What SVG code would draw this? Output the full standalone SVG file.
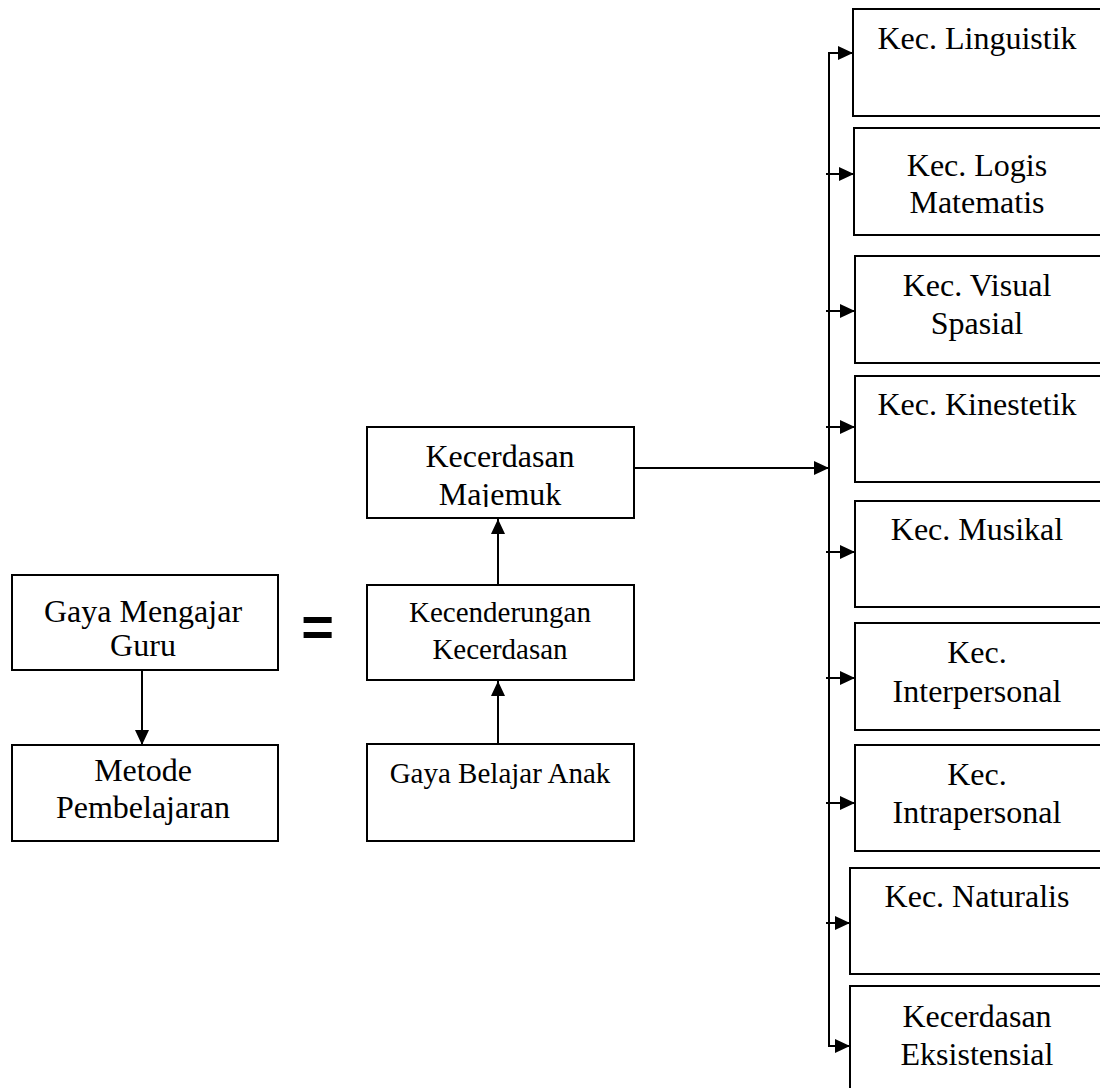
<svg xmlns="http://www.w3.org/2000/svg" width="1100" height="1088" viewBox="0 0 1100 1088">
  <style>
    .box { fill: #fff; stroke: #000; stroke-width: 2; }
    .t { font-family: "Liberation Serif", "Times New Roman", serif; font-size: 32px; fill: #000; text-anchor: middle; }
    .ts { font-size: 29px; }
    .eq { font-family: "Liberation Sans", Arial, sans-serif; font-weight: bold; font-size: 56px; fill: #000; text-anchor: middle; }
    .ln { fill: none; stroke: #000; stroke-width: 2; }
  </style>
  <defs>
    <marker id="ah" markerUnits="userSpaceOnUse" markerWidth="15" markerHeight="14" refX="15" refY="7" orient="auto">
      <path d="M0,0 L15,7 L0,14 Z" fill="#000"/>
    </marker>
    <clipPath id="clipMaj">
      <rect x="360" y="420" width="280" height="87"/>
    </clipPath>
  </defs>

  <rect width="1100" height="1088" fill="#fff"/>

  <g id="connectors">
    <line class="ln" x1="142" y1="670" x2="142" y2="745" marker-end="url(#ah)"/>
    <line class="ln" x1="498" y1="744" x2="498" y2="681" marker-end="url(#ah)"/>
    <line class="ln" x1="498" y1="585" x2="498" y2="519" marker-end="url(#ah)"/>
    <line class="ln" x1="634" y1="468" x2="829" y2="468" marker-end="url(#ah)"/>
    <line class="ln" x1="829" y1="52" x2="829" y2="1047"/>
    <line class="ln" x1="828" y1="53" x2="853" y2="53" marker-end="url(#ah)"/>
    <line class="ln" x1="826" y1="174" x2="854" y2="174" marker-end="url(#ah)"/>
    <line class="ln" x1="826" y1="311" x2="855" y2="311" marker-end="url(#ah)"/>
    <line class="ln" x1="826" y1="427" x2="855" y2="427" marker-end="url(#ah)"/>
    <line class="ln" x1="826" y1="552" x2="855" y2="552" marker-end="url(#ah)"/>
    <line class="ln" x1="826" y1="678" x2="855" y2="678" marker-end="url(#ah)"/>
    <line class="ln" x1="826" y1="803" x2="855" y2="803" marker-end="url(#ah)"/>
    <line class="ln" x1="826" y1="923" x2="850" y2="923" marker-end="url(#ah)"/>
    <line class="ln" x1="828" y1="1046" x2="850" y2="1046" marker-end="url(#ah)"/>
  </g>

  <g id="gaya-mengajar">
    <rect class="box" x="12" y="575" width="266" height="95"/>
    <text class="t" x="143" y="622">Gaya Mengajar</text>
    <text class="t" x="143" y="656">Guru</text>
  </g>
  <g id="metode">
    <rect class="box" x="12" y="745" width="266" height="96"/>
    <text class="t" x="143" y="781">Metode</text>
    <text class="t" x="143" y="818">Pembelajaran</text>
  </g>
  <g id="equals">
    <text class="eq" x="317.5" y="646">=</text>
  </g>
  <g id="majemuk">
    <rect class="box" x="367" y="427" width="267" height="91"/>
    <text class="t" x="500" y="467">Kecerdasan</text>
    <text class="t" x="500" y="505" clip-path="url(#clipMaj)">Majemuk</text>
  </g>
  <g id="kecenderungan">
    <rect class="box" x="367" y="585" width="267" height="95"/>
    <text class="t ts" x="500" y="622">Kecenderungan</text>
    <text class="t ts" x="500" y="659">Kecerdasan</text>
  </g>
  <g id="gaya-belajar">
    <rect class="box" x="367" y="744" width="267" height="97"/>
    <text class="t ts" x="500" y="783">Gaya Belajar Anak</text>
  </g>

  <g id="linguistik">
    <rect class="box" x="853" y="9" width="260" height="107"/>
    <text class="t" x="977" y="49">Kec. Linguistik</text>
  </g>
  <g id="logis">
    <rect class="box" x="854" y="128" width="260" height="107"/>
    <text class="t" x="977" y="176">Kec. Logis</text>
    <text class="t" x="977" y="213">Matematis</text>
  </g>
  <g id="visual">
    <rect class="box" x="855" y="256" width="260" height="107"/>
    <text class="t" x="977" y="296">Kec. Visual</text>
    <text class="t" x="977" y="334">Spasial</text>
  </g>
  <g id="kinestetik">
    <rect class="box" x="855" y="376" width="260" height="106"/>
    <text class="t" x="977" y="415">Kec. Kinestetik</text>
  </g>
  <g id="musikal">
    <rect class="box" x="855" y="501" width="260" height="106"/>
    <text class="t" x="977" y="540">Kec. Musikal</text>
  </g>
  <g id="interpersonal">
    <rect class="box" x="855" y="623" width="260" height="107"/>
    <text class="t" x="977" y="663">Kec.</text>
    <text class="t" x="977" y="702">Interpersonal</text>
  </g>
  <g id="intrapersonal">
    <rect class="box" x="855" y="745" width="260" height="106"/>
    <text class="t" x="977" y="785">Kec.</text>
    <text class="t" x="977" y="823">Intrapersonal</text>
  </g>
  <g id="naturalis">
    <rect class="box" x="850" y="868" width="265" height="106"/>
    <text class="t" x="977" y="907">Kec. Naturalis</text>
  </g>
  <g id="eksistensial">
    <rect class="box" x="850" y="986" width="265" height="115"/>
    <text class="t" x="977" y="1027">Kecerdasan</text>
    <text class="t" x="977" y="1065">Eksistensial</text>
  </g>
</svg>
